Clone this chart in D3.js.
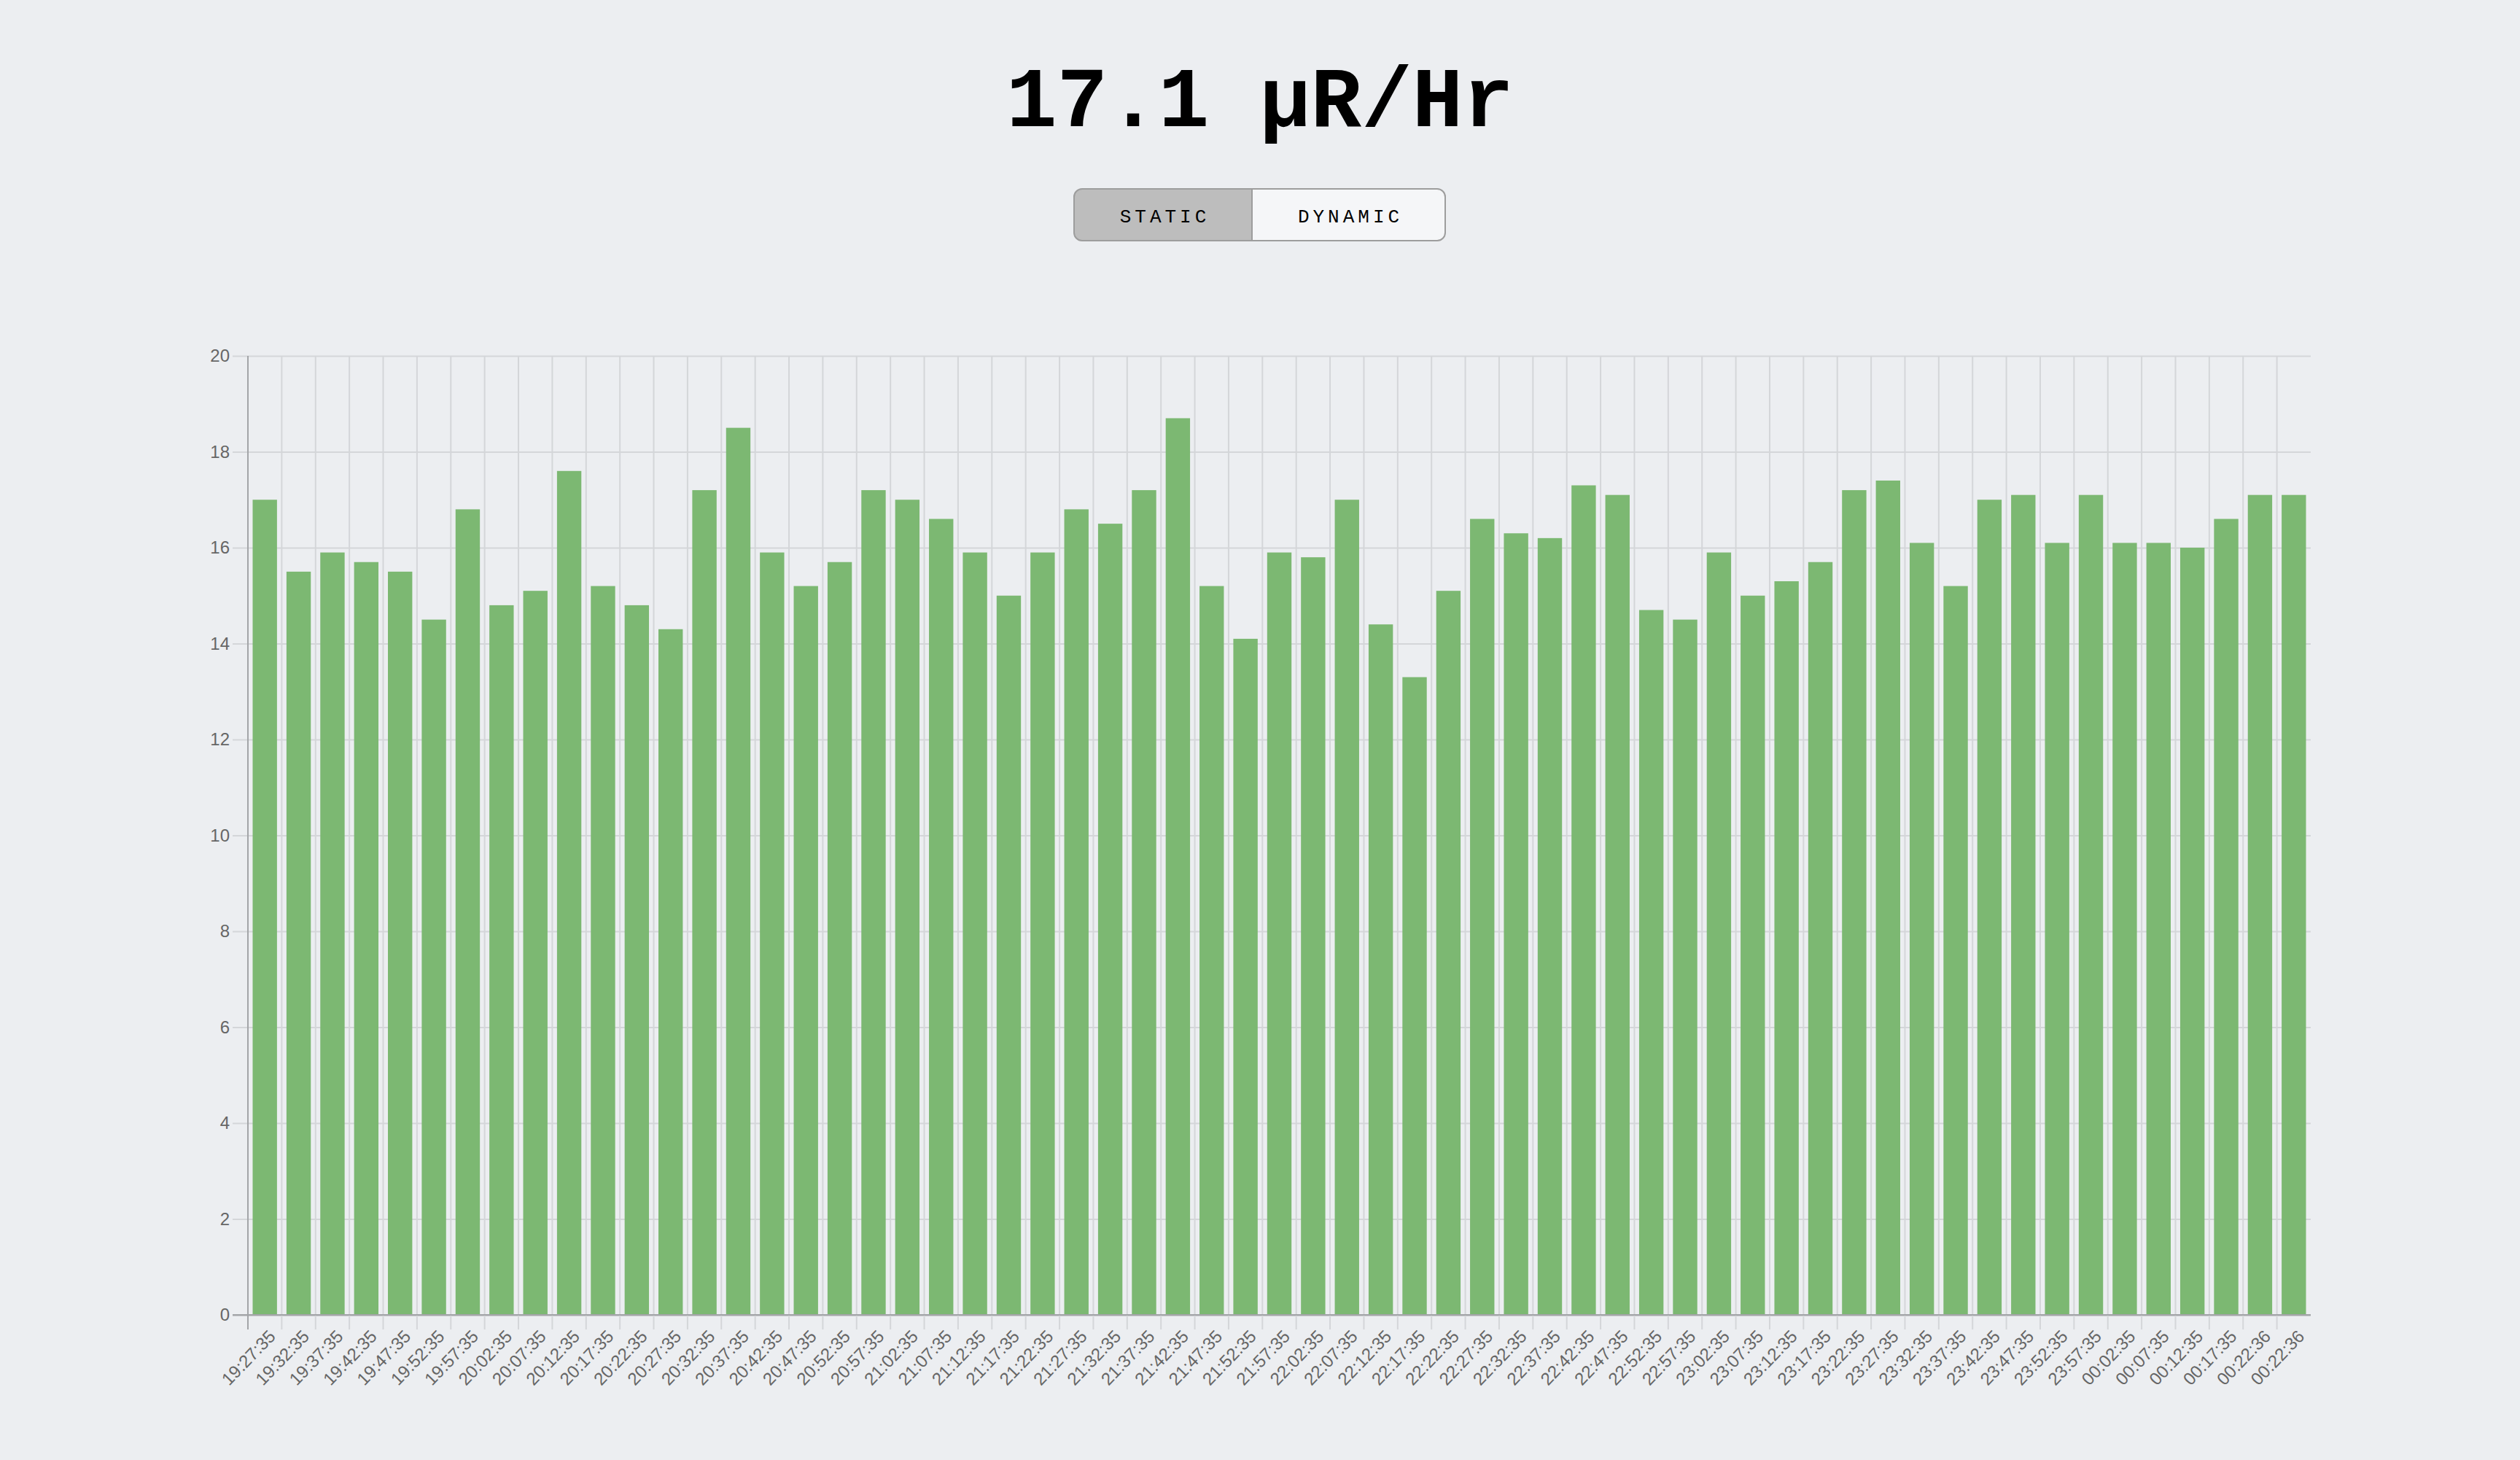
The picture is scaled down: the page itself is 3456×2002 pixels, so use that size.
<!DOCTYPE html>
<html>
<head>
<meta charset="utf-8">
<script src="https://cdn.jsdelivr.net/npm/d3@7"></script>
<style>
  html, body { margin: 0; padding: 0; background: #eceef1; }
  svg { display: block; }
</style>
</head>
<body>
<svg id="chart" width="3456" height="2002"></svg>
<script>
const titleText = "17.1 \u00B5R/Hr";
const buttonLabels = ["STATIC", "DYNAMIC"];
const labels = [
  "19:27:35","19:32:35","19:37:35","19:42:35","19:47:35","19:52:35","19:57:35",
  "20:02:35","20:07:35","20:12:35","20:17:35","20:22:35","20:27:35","20:32:35","20:37:35","20:42:35","20:47:35","20:52:35","20:57:35",
  "21:02:35","21:07:35","21:12:35","21:17:35","21:22:35","21:27:35","21:32:35","21:37:35","21:42:35","21:47:35","21:52:35","21:57:35",
  "22:02:35","22:07:35","22:12:35","22:17:35","22:22:35","22:27:35","22:32:35","22:37:35","22:42:35","22:47:35","22:52:35","22:57:35",
  "23:02:35","23:07:35","23:12:35","23:17:35","23:22:35","23:27:35","23:32:35","23:37:35","23:42:35","23:47:35","23:52:35","23:57:35",
  "00:02:35","00:07:35","00:12:35","00:17:35","00:22:36","00:22:36"
];
const values = [
  17.0,15.5,15.9,15.7,15.5,14.5,16.8,
  14.8,15.1,17.6,15.2,14.8,14.3,17.2,18.5,15.9,15.2,15.7,17.2,
  17.0,16.6,15.9,15.0,15.9,16.8,16.5,17.2,18.7,15.2,14.1,15.9,
  15.8,17.0,14.4,13.3,15.1,16.6,16.3,16.2,17.3,17.1,14.7,14.5,
  15.9,15.0,15.3,15.7,17.2,17.4,16.1,15.2,17.0,17.1,16.1,17.1,
  16.1,16.1,16.0,16.6,17.1,17.1
];
const yTicks = [0,2,4,6,8,10,12,14,16,18,20];

const svg = d3.select("#chart");
const m = { left: 340, right: 3169, top: 488, bottom: 1803 };
const gridColor = "#d4d6d9";
const axisColor = "#a3a5a8";
const labelFont = "'Helvetica Neue', Helvetica, 'Liberation Sans', Arial, sans-serif";
const monoFont = "'Courier New', Courier, 'Liberation Mono', monospace";

// Title
svg.append("text")
  .attr("x", 1728).attr("y", 173)
  .attr("text-anchor", "middle")
  .style("font-family", monoFont)
  .style("font-size", "116px")
  .style("font-weight", "bold")
  .style("fill", "#000")
  .text(titleText);

// Buttons
const bx0 = 1473, bx1 = 1717, bx2 = 1982, by0 = 259, by1 = 330, r = 11;
const defs = svg.append("defs");
defs.append("clipPath").attr("id", "btnclip")
  .append("rect").attr("x", bx0).attr("y", by0).attr("width", bx2 - bx0).attr("height", by1 - by0).attr("rx", r);
const bg = svg.append("g");
bg.append("rect").attr("x", bx0).attr("y", by0).attr("width", bx2 - bx0).attr("height", by1 - by0)
  .attr("clip-path", "url(#btnclip)").attr("fill", "#f5f6f8");
bg.append("rect").attr("x", bx0).attr("y", by0).attr("width", bx1 - bx0).attr("height", by1 - by0)
  .attr("clip-path", "url(#btnclip)").attr("fill", "#bdbdbd");
bg.append("line").attr("x1", bx1).attr("x2", bx1).attr("y1", by0).attr("y2", by1)
  .attr("stroke", "#9d9d9d").attr("stroke-width", 2);
bg.append("rect").attr("x", bx0).attr("y", by0).attr("width", bx2 - bx0).attr("height", by1 - by0)
  .attr("rx", r).attr("fill", "none").attr("stroke", "#9d9d9d").attr("stroke-width", 2);
bg.selectAll("text.btn").data(buttonLabels).join("text")
  .attr("class", "btn")
  .attr("x", (d, i) => (i === 0 ? (bx0 + bx1) / 2 : (bx1 + bx2) / 2) + 2.5)
  .attr("y", 305)
  .attr("text-anchor", "middle")
  .style("font-family", monoFont)
  .style("font-size", "26px")
  .style("letter-spacing", "5px")
  .style("fill", "#000")
  .text(d => d);

// Scales
const x = d3.scaleBand().domain(d3.range(labels.length)).range([m.left, m.right]).padding(0);
const y = d3.scaleLinear().domain([0, 20]).range([m.bottom, m.top]);
const bw = x.bandwidth();

// Y axis with gridlines
const yAxis = svg.append("g")
  .attr("transform", `translate(${m.right},0)`)
  .call(d3.axisLeft(y).tickValues(yTicks).tickSize(m.right - 319).tickSizeOuter(0).tickPadding(4));
yAxis.select(".domain").remove();
yAxis.selectAll(".tick line")
  .attr("stroke", d => d === 0 ? axisColor : gridColor)
  .attr("stroke-width", 2);
yAxis.selectAll(".tick text")
  .style("font-family", labelFont)
  .style("font-size", "24px")
  .attr("fill", "#666");

// Vertical gridlines at category boundaries
svg.append("g").selectAll("line").data(d3.range(labels.length)).join("line")
  .attr("x1", i => x(i)).attr("x2", i => x(i))
  .attr("y1", m.top).attr("y2", m.bottom + 20)
  .attr("stroke", i => i === 0 ? axisColor : gridColor)
  .attr("stroke-width", 2);

// Zero line on top of vertical grid
svg.append("line").attr("x1", 319).attr("x2", m.right)
  .attr("y1", y(0)).attr("y2", y(0))
  .attr("stroke", axisColor).attr("stroke-width", 2);

// Bars
svg.append("g").selectAll("rect").data(values).join("rect")
  .attr("x", (d, i) => x(i) + bw * 0.14)
  .attr("width", bw * 0.72)
  .attr("y", d => y(d))
  .attr("height", d => y(0) - y(d) - 1)
  .attr("fill", "#7cb872");

// X axis labels
const xAxis = svg.append("g")
  .attr("transform", `translate(0,${m.bottom})`)
  .call(d3.axisBottom(x).tickSize(0).tickFormat(i => labels[i]));
xAxis.select(".domain").remove();
xAxis.selectAll(".tick text")
  .attr("y", null)
  .attr("dy", "0.35em")
  .attr("text-anchor", "end")
  .attr("transform", "translate(10,25) rotate(-46)")
  .style("font-family", labelFont)
  .style("font-size", "24px")
  .attr("fill", "#666");
</script>
</body>
</html>
